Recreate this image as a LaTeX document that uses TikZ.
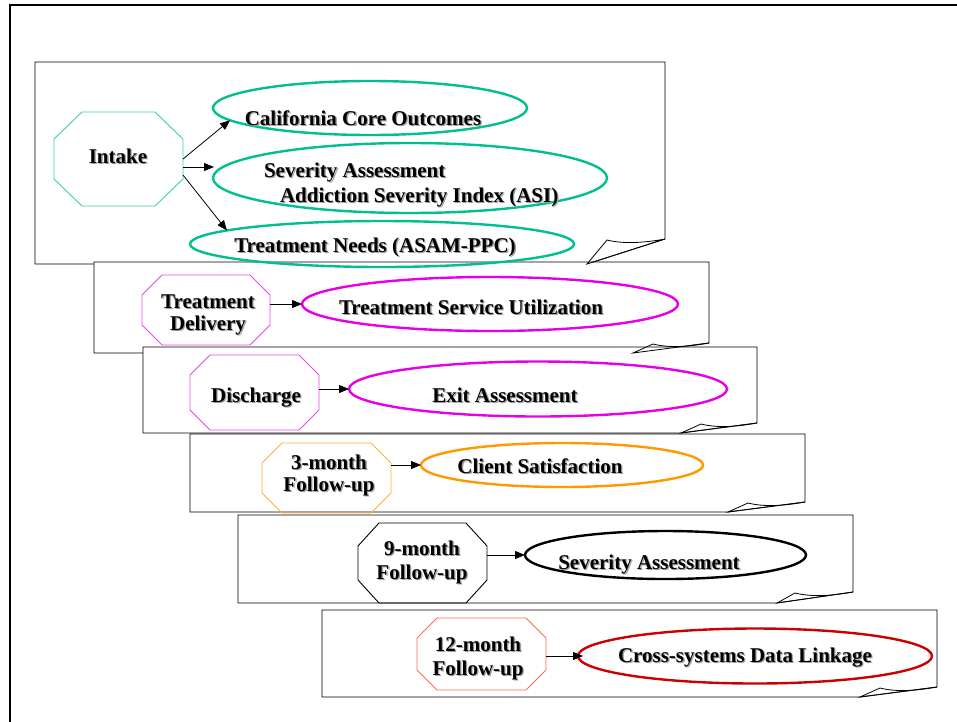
\documentclass[tikz,border=0pt]{standalone}
\usepackage{fontspec}
\setmainfont{Liberation Serif}
\usetikzlibrary{arrows.meta,calc,shapes.geometric}

\definecolor{tealline}{RGB}{0,192,144}
\definecolor{tealoct}{RGB}{60,210,160}
\definecolor{magline}{RGB}{230,0,230}
\definecolor{magoct}{RGB}{235,70,235}
\definecolor{orline}{RGB}{255,153,0}
\definecolor{oroct}{RGB}{255,175,60}
\definecolor{redline}{RGB}{204,0,0}
\definecolor{coraloct}{RGB}{255,110,80}
\definecolor{shade}{RGB}{160,160,160}

\tikzset{
  every node/.style={font=\bfseries\fontsize{21}{23}\selectfont},
  txt/.style={inner sep=0pt, outer sep=0pt, align=center},
  lbl/.style={txt, text height=14.5pt, text depth=0pt},
  two/.style={txt, font=\bfseries\fontsize{21}{#1}\selectfont},
  octbox/.style={rectangle, draw=none, inner sep=0pt, outer sep=0pt},
  octline/.style={line width=0.9pt},
  oval/.style={ellipse, line width=2.4pt, inner sep=0pt, outer sep=0pt},
  panel/.style={draw=black, line width=0.8pt, fill=white, line join=miter},
  curl/.style={draw=black, line width=0.8pt},
  arr/.style={line width=0.8pt, -{Triangle[length=10pt,width=8pt]}},
}

% text with a soft grey drop shadow: style, name, position, text
\newcommand\shnode[4]{%
  \node[#1, shift={(1.3,1.3)}, text=shade] at #3 {#4};
  \node[#1] (#2) at #3 {#4};}

% octagon drawn on the border of a rectangular node: node, x cut, y cut, style
\newcommand\octagon[4]{%
  \draw[#4] ($(#1.north west)+(#2,0)$) -- ($(#1.north east)+(-#2,0)$)
    -- ($(#1.north east)+(0,#3)$) -- ($(#1.south east)+(0,-#3)$)
    -- ($(#1.south east)+(-#2,0)$) -- ($(#1.south west)+(#2,0)$)
    -- ($(#1.south west)+(0,-#3)$) -- ($(#1.north west)+(0,#3)$) -- cycle;}

% sheet body: L, T, R, B, end of right side, curl tip x
\newcommand\sheet[6]{%
  \draw[panel] (#1,#2) -- (#3,#2) -- (#3,#5) -- (#6,#4) -- (#1,#4) -- cycle;}
% curled corner of a sheet: R, B, end of right side, curl tip x, curl top x
\newcommand\sheetcurl[5]{%
  \draw[curl] (#4,#2) -- (#5,#3+1) .. controls (#5+16,#3+5) and (#1-22,#3+4) .. (#1,#3) -- cycle;}

\begin{document}
\begin{tikzpicture}[x=1pt,y=-1pt]
\useasboundingbox (0,0) rectangle (957,721);
\clip (0,0) rectangle (957,721);
\fill[white] (0,0) rectangle (957,721);
\draw[line width=2.5pt] (10,5) rectangle (990,740);

% stacked sheets, one per stage
\sheet{35}{62}{665}{264}{239}{587}
\sheet{94}{262}{709}{353}{343}{633}
\sheet{143}{347}{757}{433}{423}{681}
\sheet{190}{434}{805}{512}{502}{728}
\sheet{238}{515}{853}{603}{592}{777}
\sheet{322}{610}{937}{697}{687}{860}
\sheetcurl{665}{264}{239}{587}{607}
\sheetcurl{709}{353}{343}{633}{653}
\sheetcurl{757}{433}{423}{681}{701}
\sheetcurl{805}{512}{502}{728}{748}
\sheetcurl{853}{603}{592}{777}{795}
\sheetcurl{937}{697}{687}{860}{880}

% Intake
\node[oval, draw=tealline, minimum width=314pt, minimum height=54pt] (cco) at (370,108) {};
\node[oval, draw=tealline, minimum width=394pt, minimum height=70pt] (sev) at (410,178) {};
\node[oval, draw=tealline, minimum width=384pt, minimum height=46pt] (tn) at (382,244) {};
\node[octbox, minimum width=129pt, minimum height=94pt] (intake) at (118.5,159) {};
\octagon{intake}{28}{27}{octline, draw=tealoct}
\shnode{lbl}{intaketext}{(118,156)}{Intake}
\shnode{lbl}{ccotext}{(363,118)}{California Core Outcomes}
\shnode{txt, align=left, anchor=west, font=\bfseries\fontsize{21}{25}\selectfont}{sevtext}{(264,184.5)}{Severity Assessment\\\hspace*{16pt}Addiction Severity Index (ASI)}
\shnode{lbl}{tntext}{(375,245)}{Treatment Needs (ASAM-PPC)}
\draw[arr] (intake.east) -- (cco.185);
\draw[arr] ($(intake.east)+(0,8)$) -- ($(sev.west)+(1,-11)$);
\draw[arr] ($(intake.east)+(0,16)$) -- (tn.175);

% Treatment delivery
\node[oval, draw=magline, minimum width=376pt, minimum height=54pt] (tsu) at (490,304) {};
\node[octbox, minimum width=128pt, minimum height=70pt] (td) at (206,310) {};
\octagon{td}{20}{20}{octline, draw=magoct}
\shnode{two=22}{tdtext}{(208,314.5)}{Treatment\\Delivery}
\shnode{lbl}{tsutext}{(471,307)}{Treatment Service Utilization}
\draw[arr] (td.east |- tsu.west) -- (tsu.west);

% Discharge
\node[oval, draw=magline, minimum width=378pt, minimum height=55pt] (exa) at (538,389) {};
\node[octbox, minimum width=129pt, minimum height=75pt] (dis) at (254.5,392.5) {};
\octagon{dis}{20}{20}{octline, draw=magoct}
\shnode{lbl}{distext}{(256,395)}{Discharge}
\shnode{lbl}{exatext}{(505,395)}{Exit Assessment}
\draw[arr] (dis.east |- exa.west) -- (exa.west);

% 3-month follow-up
\node[oval, draw=orline, minimum width=282pt, minimum height=44pt] (cs) at (562,465) {};
\node[octbox, minimum width=129pt, minimum height=70pt] (m3) at (326.5,478) {};
\octagon{m3}{20}{20}{octline, draw=oroct}
\shnode{two=22}{m3text}{(329,475.5)}{3-month\\Follow-up}
\shnode{lbl}{cstext}{(540,466)}{Client Satisfaction}
\draw[arr] (m3.east |- cs.west) -- (cs.west);

% 9-month follow-up
\node[oval, draw=black, minimum width=281pt, minimum height=48pt] (sa) at (665.5,555) {};
\node[octbox, minimum width=129pt, minimum height=80pt] (m9) at (422.5,563) {};
\octagon{m9}{21}{23}{octline, draw=black}
\shnode{two=24}{m9text}{(422,562.5)}{9-month\\Follow-up}
\shnode{lbl}{satext}{(649,562)}{Severity Assessment}
\draw[arr] (m9.east |- sa.west) -- (sa.west);

% 12-month follow-up
\node[oval, draw=redline, minimum width=354pt, minimum height=55pt] (cdl) at (755,656) {};
\node[octbox, minimum width=129pt, minimum height=72pt] (m12) at (481.5,654) {};
\octagon{m12}{20}{20}{octline, draw=coraloct}
\shnode{two=24}{m12text}{(478,658.5)}{12-month\\Follow-up}
\shnode{lbl}{cdltext}{(745,655)}{Cross-systems Data Linkage}
\draw[arr] (m12.east |- cdl.west) -- ($(cdl.west)+(5,0)$);
\end{tikzpicture}
\end{document}
